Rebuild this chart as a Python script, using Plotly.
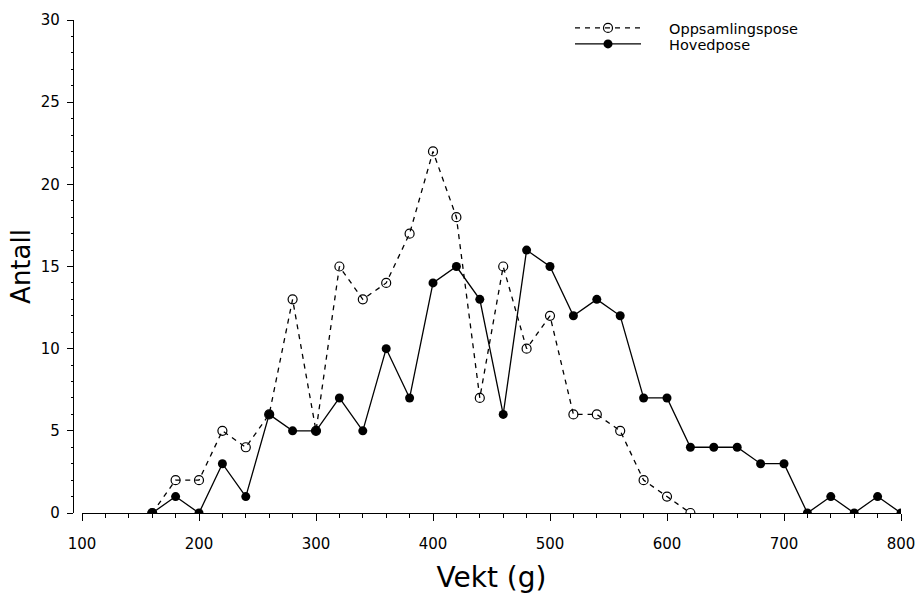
import plotly.graph_objects as go

x_opp = [160, 180, 200, 220, 240, 260, 280, 300, 320, 340, 360, 380, 400, 420,
         440, 460, 480, 500, 520, 540, 560, 580, 600, 620]
y_opp = [0, 2, 2, 5, 4, 6, 13, 5, 15, 13, 14, 17, 22, 18,
         7, 15, 10, 12, 6, 6, 5, 2, 1, 0]

x_hov = [160, 180, 200, 220, 240, 260, 280, 300, 320, 340, 360, 380, 400, 420,
         440, 460, 480, 500, 520, 540, 560, 580, 600, 620, 640, 660, 680, 700,
         720, 740, 760, 780, 800]
y_hov = [0, 1, 0, 3, 1, 6, 5, 5, 7, 5, 10, 7, 14, 15,
         13, 6, 16, 15, 12, 13, 12, 7, 7, 4, 4, 4, 3, 3,
         0, 1, 0, 1, 0]

x_ticks = [100, 200, 300, 400, 500, 600, 700, 800]
y_ticks = [0, 5, 10, 15, 20, 25, 30]

FONT = "DejaVu Sans, Liberation Sans, sans-serif"
PAD = "\u00a0" * 5

fig = go.Figure()
fig.add_trace(go.Scatter(
    x=x_opp, y=y_opp, mode="lines+markers", name=PAD + "Oppsamlingspose",
    line=dict(color="black", width=1.3, dash="5px,5px"),
    marker=dict(symbol="circle-open", size=9, color="black", line=dict(width=1.2)),
    legend="legend",
))
fig.add_trace(go.Scatter(
    x=x_hov, y=y_hov, mode="lines+markers", name=PAD + "Hovedpose",
    line=dict(color="black", width=1.3),
    marker=dict(symbol="circle", size=9, color="black"),
    legend="legend2",
))

L, R, T, B = 73, 16, 20, 86
W, H = 917, 599
pw = W - L - R
ph = H - T - B

def leg(row_y):
    # row_y: pixel y of the legend row centre
    return dict(x=(570 - L) / pw, y=1 + (T - row_y + 16) / ph, xanchor="left", yanchor="top",
                bgcolor="rgba(0,0,0,0)", font=dict(size=14.5, family=FONT),
                itemwidth=66, tracegroupgap=0)

fig.update_layout(
    width=W, height=H,
    margin=dict(l=L, r=R, t=T, b=B, autoexpand=False),
    paper_bgcolor="white", plot_bgcolor="white",
    font=dict(family=FONT, color="black", size=14),
    showlegend=True,
    legend=leg(28),
    legend2=leg(44),
    xaxis=dict(
        range=[100, 800], domain=[(82 - L) / pw, 1], automargin=False,
        tickvals=x_ticks, ticks="outside", ticklen=7, tickwidth=1, tickcolor="black",
        ticklabelstandoff=10,
        minor=dict(dtick=20, tick0=100, ticks="outside", ticklen=4, tickcolor="black", showgrid=False),
        showline=True, linecolor="black", linewidth=1.2,
        showgrid=False, zeroline=False,
        title=dict(text="Vekt (g)", font=dict(size=28, family=FONT), standoff=15),
        tickfont=dict(size=15),
    ),
    yaxis=dict(
        range=[0, 30], anchor="free", position=0, automargin=False,
        tickvals=y_ticks, ticks="outside", ticklen=6, tickwidth=1, tickcolor="black",
        ticklabelstandoff=4,
        minor=dict(dtick=1, tick0=0, ticks="outside", ticklen=2, tickcolor="black", showgrid=False),
        showline=True, linecolor="black", linewidth=1.2,
        showgrid=False, zeroline=False,
        title=dict(text="Antall", font=dict(size=26, family=FONT), standoff=1),
        tickfont=dict(size=15),
    ),
)

fig.write_html("out.html")
